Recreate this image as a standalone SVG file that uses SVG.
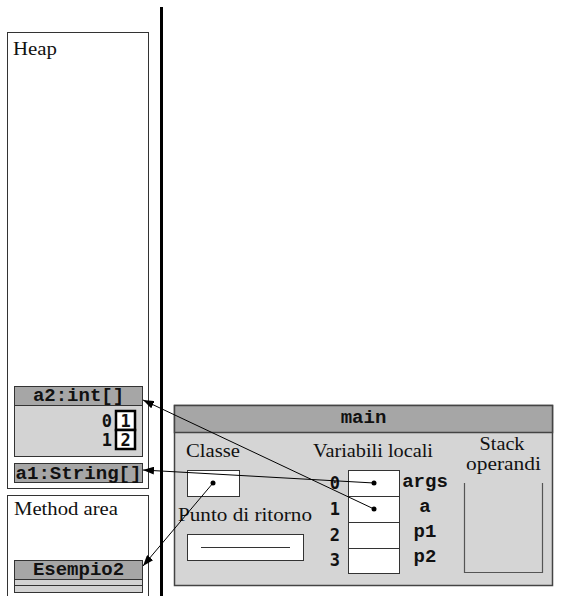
<svg xmlns="http://www.w3.org/2000/svg" width="564" height="596" viewBox="0 0 564 596">
<defs>
<style>
.serif{font-family:"Liberation Serif","DejaVu Serif",serif;font-size:18px;fill:#111}
.mono{font-family:"Liberation Mono","DejaVu Sans Mono",monospace;font-weight:bold;font-size:19px;fill:#111}
.idx{font-family:"DejaVu Sans Mono","Liberation Mono",monospace;font-weight:bold;font-size:17px;fill:#111}
.area{fill:#fff;stroke:#333;stroke-width:1}
.hdr{fill:#a6a6a6;stroke:#333;stroke-width:1}
.body{fill:#d3d3d3;stroke:#333;stroke-width:1}
.cell{fill:#fff;stroke:#333;stroke-width:1}
.thick{fill:#fff;stroke:#000;stroke-width:2.5}
.conn{stroke:#000;stroke-width:1;fill:none}
.dot{fill:#000}
</style>
<marker id="arr" viewBox="0 0 11 8" refX="11" refY="4" markerWidth="11" markerHeight="8" markerUnits="userSpaceOnUse" orient="auto">
<path d="M0,0 L11,4 L0,8 z" fill="#000"/>
</marker>
</defs>

<line x1="161.5" y1="7" x2="161.5" y2="596" stroke="#000" stroke-width="3"/>

<g id="heap">
<rect class="area" x="7.5" y="32.5" width="141" height="456"/>
<text class="serif" x="13" y="55" textLength="44" lengthAdjust="spacingAndGlyphs">Heap</text>
</g>

<g id="a2">
<rect class="body" x="14.5" y="405.5" width="128" height="51"/>
<rect class="hdr" x="14.5" y="386.5" width="128" height="19"/>
<text class="mono" x="78.5" y="401" text-anchor="middle">a2:int[]</text>
<text class="idx" x="112" y="427" text-anchor="end">0</text>
<text class="idx" x="112" y="446" text-anchor="end">1</text>
<rect class="thick" x="116" y="411" width="19" height="19"/>
<rect class="thick" x="116" y="430" width="19" height="19"/>
<text class="idx" x="125.5" y="426.5" text-anchor="middle">1</text>
<text class="idx" x="125.5" y="445.5" text-anchor="middle">2</text>
</g>

<g id="a1">
<rect class="hdr" x="14.5" y="463.5" width="128" height="19"/>
<text class="mono" x="78.5" y="479" text-anchor="middle" textLength="126" lengthAdjust="spacingAndGlyphs">a1:String[]</text>
</g>

<g id="method-area">
<rect class="area" x="7.5" y="495.5" width="141" height="110"/>
<text class="serif" x="14" y="515" textLength="104" lengthAdjust="spacingAndGlyphs">Method area</text>
</g>

<g id="esempio2">
<rect class="hdr" x="14.5" y="560.5" width="128" height="19"/>
<rect class="body" x="14.5" y="579.5" width="128" height="6"/>
<rect class="body" x="14.5" y="585.5" width="128" height="7"/>
<text class="mono" x="78.5" y="575" text-anchor="middle">Esempio2</text>
</g>

<g id="main">
<rect x="174.5" y="405.5" width="378" height="180" fill="#d5d5d5" stroke="#444" stroke-width="1.5"/>
<rect x="174.5" y="405.5" width="378" height="27" fill="#a6a6a6" stroke="#444" stroke-width="1.5"/>
<text class="mono" x="363.5" y="423" text-anchor="middle">main</text>
<text class="serif" x="186" y="457" textLength="54" lengthAdjust="spacingAndGlyphs">Classe</text>
<rect class="cell" x="187.5" y="470.5" width="52" height="26"/>
<text class="serif" x="178" y="521" textLength="134" lengthAdjust="spacingAndGlyphs">Punto di ritorno</text>
<rect class="cell" x="187.5" y="534.5" width="116" height="26"/>
<line x1="201" y1="547.5" x2="290" y2="547.5" stroke="#333" stroke-width="1"/>
<text class="serif" x="313" y="457" textLength="120" lengthAdjust="spacingAndGlyphs">Variabili locali</text>
<rect class="cell" x="348.5" y="470.5" width="51" height="26"/>
<rect class="cell" x="348.5" y="496.5" width="51" height="26"/>
<rect class="cell" x="348.5" y="522.5" width="51" height="26"/>
<rect class="cell" x="348.5" y="548.5" width="51" height="25"/>
<text class="idx" x="340" y="489" text-anchor="end">0</text>
<text class="idx" x="340" y="515" text-anchor="end">1</text>
<text class="idx" x="340" y="541" text-anchor="end">2</text>
<text class="idx" x="340" y="566" text-anchor="end">3</text>
<text class="mono" x="425" y="487" text-anchor="middle">args</text>
<text class="mono" x="425" y="512" text-anchor="middle">a</text>
<text class="mono" x="425" y="537" text-anchor="middle">p1</text>
<text class="mono" x="425" y="562" text-anchor="middle">p2</text>
<text class="serif" x="502" y="450" text-anchor="middle" textLength="45" lengthAdjust="spacingAndGlyphs">Stack</text>
<text class="serif" x="503.5" y="470" text-anchor="middle" textLength="75" lengthAdjust="spacingAndGlyphs">operandi</text>
<polyline points="464.5,483 464.5,572.5 542.5,572.5 542.5,483" fill="none" stroke="#555" stroke-width="1.2"/>
</g>

<g id="connectors">
<line class="conn" x1="374" y1="509" x2="143" y2="400" marker-end="url(#arr)"/>
<line class="conn" x1="374" y1="483" x2="143" y2="470" marker-end="url(#arr)"/>
<line class="conn" x1="213" y1="483" x2="143" y2="566" marker-end="url(#arr)"/>
<circle class="dot" cx="374" cy="483" r="2.5"/>
<circle class="dot" cx="374" cy="509" r="2.5"/>
<circle class="dot" cx="213" cy="483" r="2.5"/>
</g>
</svg>
